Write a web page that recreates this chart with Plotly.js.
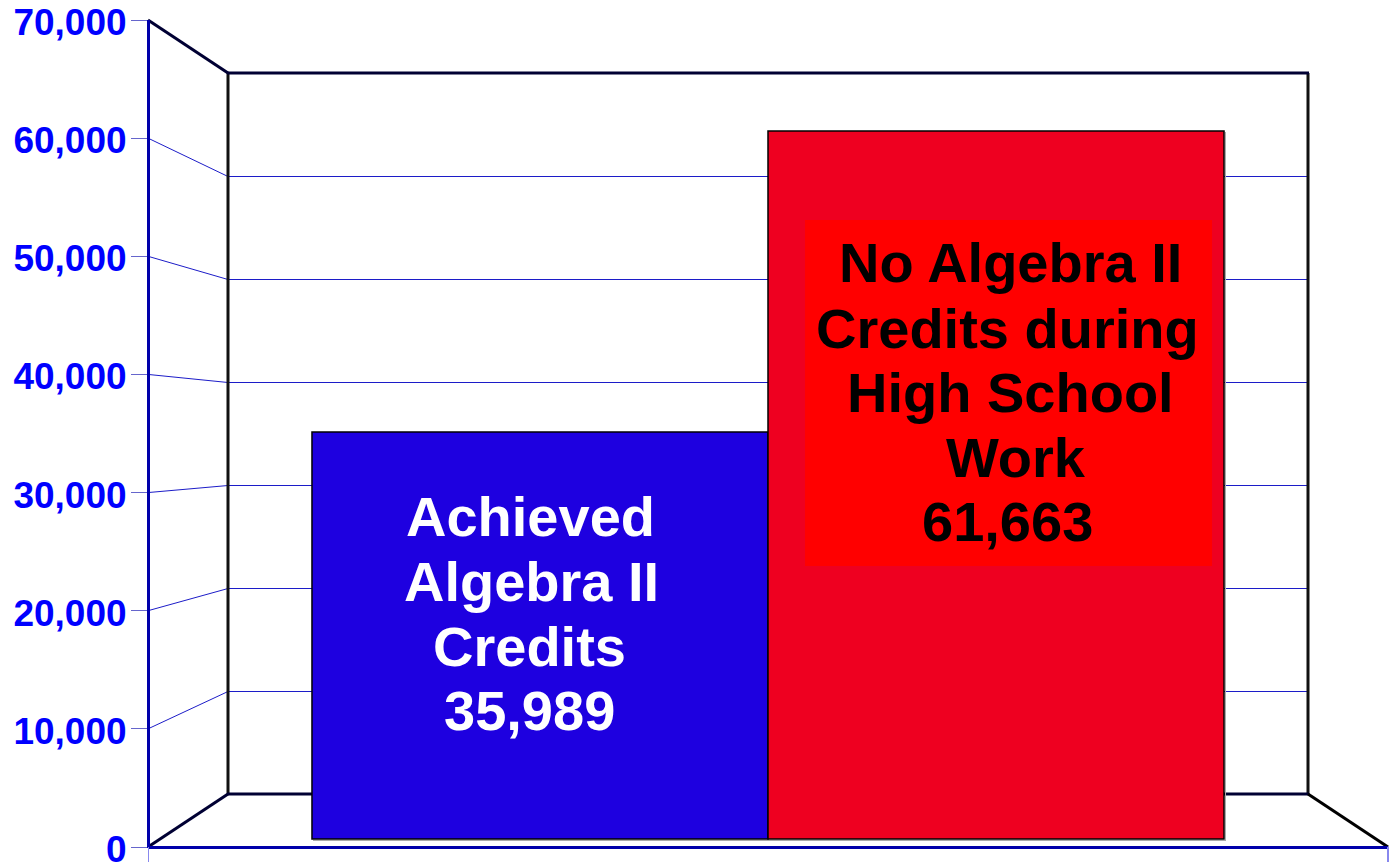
<!DOCTYPE html>
<html>
<head>
<meta charset="utf-8">
<script src="https://cdn.plot.ly/plotly-3.0.1.min.js"></script>
<style>html,body{margin:0;padding:0;background:#fff;overflow:hidden}</style>
</head>
<body>
<div id="chart" style="width:1393px;height:864px"></div>
<script>
// Data
const categories = ["Achieved Algebra II Credits", "No Algebra II Credits during High School Work"];
const values = [35989, 61663];
const barColors = ["#1E00E0", "#EE0020"];
const tickValues = [0, 10000, 20000, 30000, 40000, 50000, 60000, 70000];
const tickLabels = ["0", "10,000", "20,000", "30,000", "40,000", "50,000", "60,000", "70,000"];
const blueLabelLines = ["Achieved", "Algebra II", "Credits", "35,989"];
const redLabelLines = ["No Algebra II", "Credits during", "High School", "Work", "61,663"];

// Layout geometry (pixels in the 1393x864 page)
const L = 148, R = 1388, T = 20, B = 847;
const backL = 228, backR = 1308, backT = 73, backB = 794;
const barFloorValue = 1271;
const px = x => (x - L) / (R - L);
const py = y => (B - y) / (B - T);
const backY = v => Math.round(backB - (backB - backT) * v / 70000) + 0.5;

function seg(x0, y0, x1, y1, color, width, layer) {
  return {type: "line", xref: "paper", yref: "paper", x0: px(x0), y0: py(y0), x1: px(x1), y1: py(y1),
          line: {color: color, width: width}, layer: layer || "below"};
}

const shapes = [];
// gridlines on side wall and back wall
tickValues.slice(1, -1).forEach(v => {
  const yf = B - (B - T) * v / 70000;
  shapes.push(seg(L, yf, backL, backY(v), "#1C1CC8", 1));
  shapes.push(seg(backL, backY(v), backR, backY(v), "#1C1CC8", 1));
});
// walls
shapes.push(seg(backL, backT, backL, backB, "#111111", 3));
shapes.push(seg(backR, backT, backR, backB, "#111111", 3));
shapes.push(seg(backL - 1, backT, backR + 1, backT, "#000033", 3));
shapes.push(seg(backL - 1, backB, backR + 1, backB, "#000033", 3));
shapes.push(seg(L, T, backL, backT, "#000033", 3));
shapes.push(seg(L, B, backL, backB, "#000033", 3));
shapes.push(seg(backR, backB, R, B, "#000000", 3));
// bar drop shadow
shapes.push(seg(1225.5, 132, 1225.5, 840.5, "#AAAAAA", 1));
shapes.push(seg(313, 840.5, 1226, 840.5, "#AAAAAA", 1));
// main axis lines
shapes.push(seg(L + 0.5, T, L + 0.5, B + 1, "#0000AA", 3));
shapes.push(seg(L, B + 0.5, R, B + 0.5, "#0000AA", 3));
// x-axis end ticks
shapes.push(seg(L + 0.5, B, L + 0.5, 862, "#8888EE", 1));
shapes.push(seg(R, B, R, 862, "#8888EE", 2));
// label background on the red bar
shapes.push({type: "rect", xref: "paper", yref: "paper", x0: px(805), x1: px(1212), y0: py(566), y1: py(220),
             fillcolor: "#FF0000", line: {width: 0}, layer: "above"});

const annotations = [];
const blueX = [530, 531, 529, 529], blueY = [516, 581, 646, 710];
const redX = [1010, 1007, 1010, 1016, 1007], redY = [262, 328, 392, 457, 521];
function addLines(lines, xs, ys, color) {
  lines.forEach((t, i) => annotations.push({
    text: "<b>" + t + "</b>", xref: "paper", yref: "paper", x: px(xs[i]), y: py(ys[i]),
    xanchor: "center", yanchor: "middle", showarrow: false,
    font: {family: "Liberation Sans, Arial, sans-serif", size: 56, color: color}
  }));
}
addLines(blueLabelLines, blueX, blueY, "#FFFFFF");
addLines(redLabelLines, redX, redY, "#000000");

const traces = [
  {type: "scatter", mode: "none", x: [categories[0]], y: [0], yaxis: "y", xaxis: "x", showlegend: false, hoverinfo: "skip"},
  {type: "bar", x: categories, y: values.map(v => v - barFloorValue), base: barFloorValue, yaxis: "y2", xaxis: "x",
   marker: {color: barColors, line: {color: "#000000", width: 1.5}}, showlegend: false, hoverinfo: "skip", width: 1}
];

const layout = {
  width: 1393, height: 864,
  margin: {l: L, r: 1393 - R, t: T, b: 864 - B, pad: 0},
  paper_bgcolor: "#FFFFFF", plot_bgcolor: "#FFFFFF",
  showlegend: false, bargap: 0,
  xaxis: {type: "category", categoryorder: "array", categoryarray: categories, range: [-0.8596, 1.8596],
          showticklabels: false, ticks: "", showgrid: false, zeroline: false, showline: false},
  yaxis: {range: [0, 70000], tickmode: "array", tickvals: tickValues, ticktext: tickLabels,
          ticks: "outside", ticklen: 16, tickwidth: 1, tickcolor: "#6666CC",
          ticklabeloverflow: "allow", ticklabelstandoff: -3, ticklabelshift: 2,
          tickfont: {family: "Liberation Sans, Arial, sans-serif", size: 37, color: "#0000FF", weight: "bold"},
          showgrid: false, zeroline: false, showline: false},
  yaxis2: {range: [588, 71128], overlaying: "y", visible: false, showgrid: false, zeroline: false},
  shapes: shapes, annotations: annotations
};
Plotly.newPlot("chart", traces, layout, {displayModeBar: false, staticPlot: true});
</script>
</body>
</html>
